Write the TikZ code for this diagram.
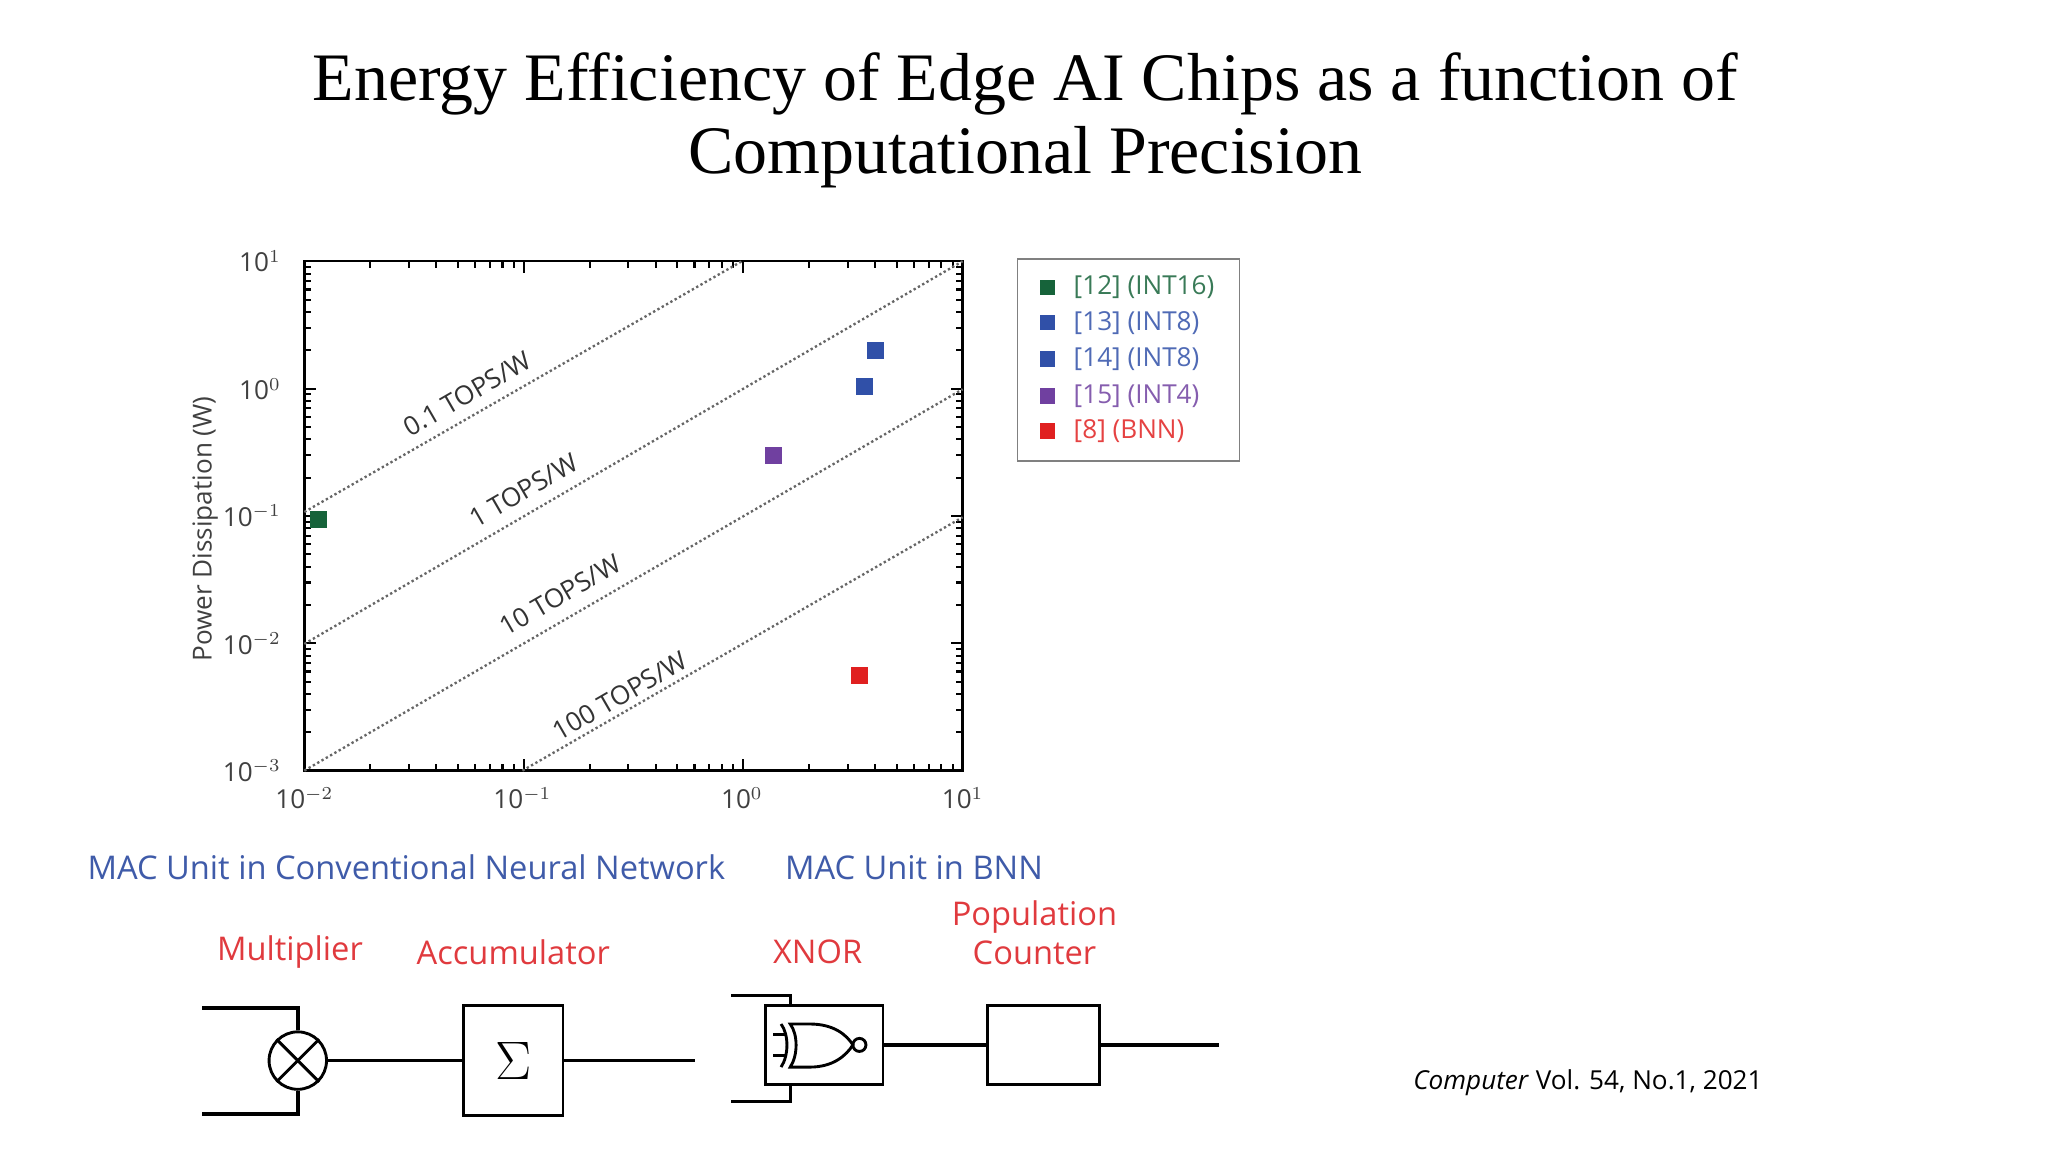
\documentclass[tikz,border=0pt]{standalone}
\usepackage{fontspec}
\setmainfont{Liberation Serif}
\newfontfamily\osans{Open Sans}
\definecolor{cblue}{HTML}{3050A8}
\definecolor{cgreen}{HTML}{16633A}
\definecolor{cviol}{HTML}{7040A0}
\definecolor{cred}{HTML}{E02020}
\definecolor{lblue}{HTML}{3F5BA9}
\definecolor{lred}{HTML}{E03A3E}
\begin{document}
\begin{tikzpicture}[x=0.5pt,y=-0.5pt,
  tick/.style={font=\osans\fontsize{10}{11}\selectfont, text=black!75},
  effline/.style={black!60, densely dotted, line width=0.9pt},
  efflab/.style={font=\osans\fontsize{10}{11}\selectfont, text=black!80, rotate=30, anchor=south},
  mk/.style={minimum size=6.5pt, inner sep=0pt},
  leg/.style={font=\osans\fontsize{10}{11}\selectfont, anchor=west},
  blab/.style={font=\osans\fontsize{12.5}{14}\selectfont, text=lblue},
  rlab/.style={font=\osans\fontsize{12.5}{15}\selectfont, text=lred, align=center},
  wire/.style={line width=1.6pt},
  thin/.style={line width=1.1pt}]
\useasboundingbox (0,0) rectangle (1568,882);
% title
\node (t1) at (785,64) {\fontsize{26}{29}\selectfont Energy Efficiency of Edge AI Chips as a function of};
\node (t2) at (785,120) {\fontsize{26}{29}\selectfont Computational Precision};
% axes
\draw[line width=0.9pt] (233,200) rectangle (737,590);
\foreach \d in {0,1,2}{
  \foreach \k in {1,...,9}{
    \pgfmathsetmacro\xx{233+168*(\d+log10(\k))}
    \pgfmathsetmacro\len{\k==1?9:5}
    \draw[line width=0.8pt] (\xx,590) -- ++(0,-\len);
    \draw[line width=0.8pt] (\xx,200) -- ++(0,\len);
  }}
\foreach \d in {0,1,2,3}{
  \foreach \k in {1,...,9}{
    \pgfmathsetmacro\yy{590-97.5*(\d+log10(\k))}
    \pgfmathsetmacro\len{\k==1?9:5}
    \draw[line width=0.8pt] (233,\yy) -- ++(\len,0);
    \draw[line width=0.8pt] (737,\yy) -- ++(-\len,0);
  }}
% tick labels
\node[tick] (xl1) at (233,611) {10$^{-2}$};
\node[tick] (xl2) at (400,611) {10$^{-1}$};
\node[tick] (xl3) at (568,611) {10$^{0}$};
\node[tick] (xl4) at (737,611) {10$^{1}$};
\node[tick,anchor=east] (yl1) at (222,200) {10$^{1}$};
\node[tick,anchor=east] (yl2) at (222,298) {10$^{0}$};
\node[tick,anchor=east] (yl3) at (222,395) {10$^{-1}$};
\node[tick,anchor=east] (yl4) at (222,493) {10$^{-2}$};
\node[tick,anchor=east] (yl5) at (222,590) {10$^{-3}$};
\node[tick,rotate=90,font=\osans\fontsize{10}{11}\selectfont] (ylab) at (157,405) {Power Dissipation (W)};
% efficiency lines
\coordinate (a1) at (233,392); \coordinate (b1) at (568,200);
\coordinate (a2) at (233,493); \coordinate (b2) at (737,200);
\coordinate (a3) at (233,590); \coordinate (b3) at (737,298);
\coordinate (a4) at (400,590); \coordinate (b4) at (737,396);
\draw[effline] (a1) -- (b1);
\draw[effline] (a2) -- (b2);
\draw[effline] (a3) -- (b3);
\draw[effline] (a4) -- (b4);
\node[efflab] (e1) at (365,314) {0.1 TOPS/W};
\node[efflab] (e2) at (408,388) {1 TOPS/W};
\node[efflab] (e3) at (436,468) {10 TOPS/W};
\node[efflab] (e4) at (482,545) {100 TOPS/W};
% data
\node[mk,fill=cgreen] (p1) at (244,398) {};
\node[mk,fill=cblue] (p2) at (670,268) {};
\node[mk,fill=cblue] (p3) at (662,296) {};
\node[mk,fill=cviol] (p4) at (592,349) {};
\node[mk,fill=cred] (p5) at (658,517) {};
% legend
\draw[black!50, line width=0.7pt] (779,198) rectangle (949,353);
\foreach \y/\c/\t in {220/cgreen/{[12] (INT16)},247/cblue/{[13] (INT8)},275/cblue/{[14] (INT8)},303/cviol/{[15] (INT4)},330/cred/{[8] (BNN)}}{
  \node[mk,fill=\c,minimum size=6pt] at (802,\y) {};
  \node[leg,text=\c!85!white] at (815,\y) {\t};
}
% bottom labels
\node[blab,anchor=west] (m1) at (60,664) {MAC Unit in Conventional Neural Network};
\node[blab,anchor=west] (m2) at (594,664) {MAC Unit in BNN};
\node[rlab] (r1) at (222,729) {Multiplier};
\node[rlab] (r2) at (393,729) {Accumulator};
\node[rlab] (r3) at (626,729) {XNOR};
\node[rlab] (r4) at (792,714) {Population\\Counter};
% multiplier
\node[draw,circle,thin,minimum size=22pt,inner sep=0pt] (mul) at (228,812) {};
\draw[thin] (mul.north west) -- (mul.south east);
\draw[thin] (mul.south west) -- (mul.north east);
\coordinate (i1) at (155,772); \coordinate (i2) at (155,853);
\draw[wire] (i1) -- (228,772) -- (mul.north);
\draw[wire] (i2) -- (228,853) -- (mul.south);
\node[draw,thin,minimum width=38pt,minimum height=42pt,inner sep=0pt] (acc) at (393,812) {\fontsize{22}{24}\selectfont$\Sigma$};
\draw[thin] (mul.east) -- (acc.west);
\coordinate (o1) at (532,812);
\draw[thin] (acc.east) -- (o1);
% XNOR
\node[draw,thin,minimum width=45pt,minimum height=30pt,inner sep=0pt] (xb) at (631,800) {};
\draw[thin] (560,762) -- (605,762) -- (605,770);
\draw[thin] (560,843) -- (605,843) -- (605,830);
\draw[thin] (598,784) .. controls (604,792) and (604,808) .. (598,817);
\draw[thin] (605,784) -- (620,784) .. controls (638,784) and (648,792) .. (653,800)
   .. controls (648,808) and (638,817) .. (620,817) -- (605,817)
   .. controls (611,808) and (611,792) .. (605,784) -- cycle;
\draw[thin] (658,800) circle (5);
\draw[thin] (592,792) -- (602,792);
\draw[thin] (592,808) -- (602,808);
\node[draw,thin,minimum width=43pt,minimum height=30pt,inner sep=0pt] (pc) at (799,800) {};
\draw[wire] (xb.east) -- (pc.west);
\coordinate (o2) at (933,800);
\draw[wire] (pc.east) -- (o2);
% citation
\node[anchor=west,font=\osans\fontsize{10}{12}\selectfont] (cit) at (1075,829) {\textit{Computer} Vol. 54, No.1, 2021};
\end{tikzpicture}
\end{document}
